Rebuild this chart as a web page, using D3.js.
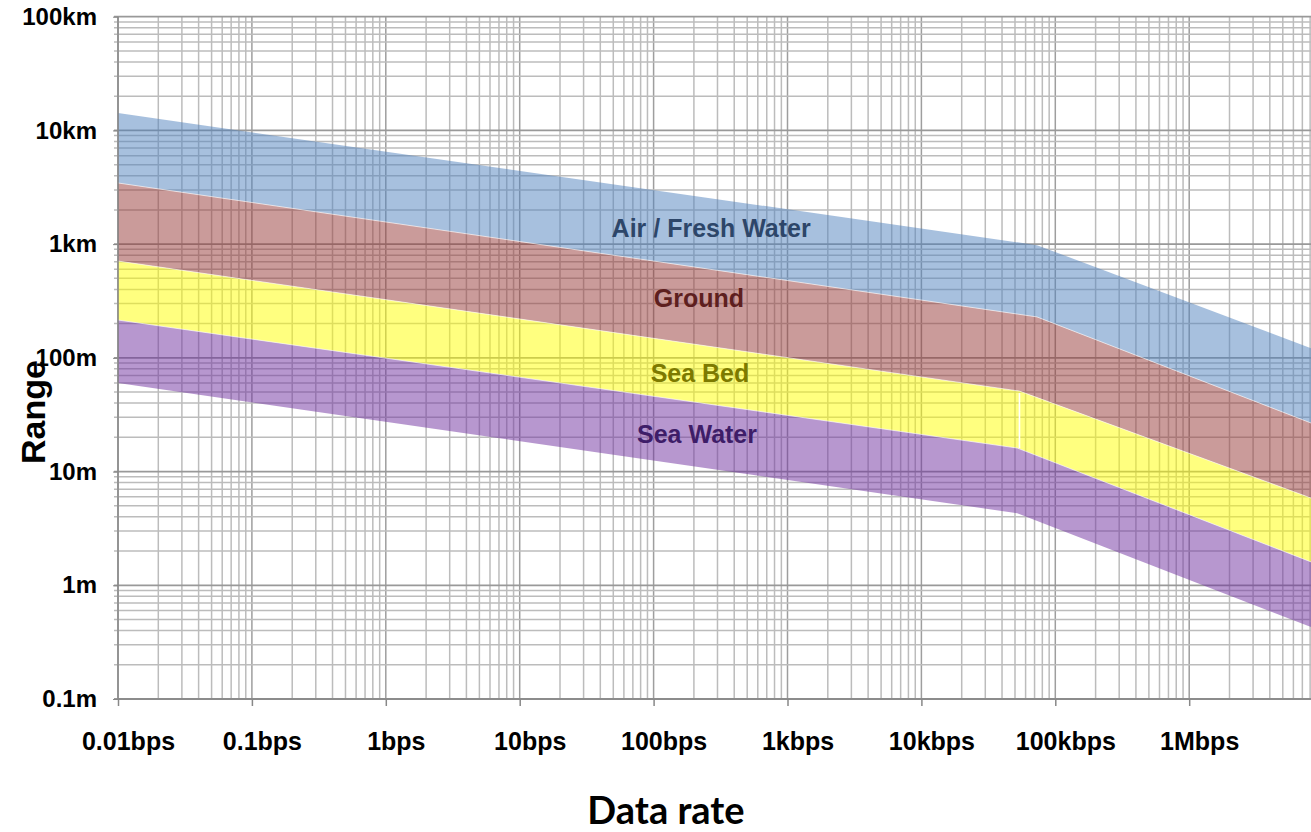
<!DOCTYPE html>
<html>
<head>
<meta charset="utf-8">
<script src="https://cdn.jsdelivr.net/npm/d3@7"></script>
<style>
body { margin: 0; background: #fff; }
svg { display: block; }
</style>
</head>
<body>
<div id="chart"></div>
<script>
// bands, top to bottom
var bandNames = ["Air / Fresh Water", "Ground", "Sea Bed", "Sea Water"];
var bandColors = ["#4f81bd", "#953735", "#ffff00", "#7030a0"];
var textColors = ["#2d4669", "#5e1f1f", "#7d7a00", "#3e1d68"];

// band edges (top of band i = edge i, bottom = edge i+1), bps -> metres
var edgeRates = [
	[0.01, 73000, 1e7],
	[0.01, 73000, 1e7],
	[0.01, 54000, 1e7],
	[0.01, 52000, 1e7],
	[0.01, 52000, 1e7]
];
var edgeRanges = [
	[14200, 980, 111],
	[3450, 229, 24.3],
	[710, 51, 5.35],
	[215, 16.1, 1.46],
	[60, 4.3, 0.39]
];

var labelRates = [269, 218, 222, 211];
var labelRanges = [1380, 333, 73, 21.6];

var xTicks = [0.01, 0.1, 1, 10, 100, 1e3, 1e4, 1e5, 1e6];
var xTickLabels = ["0.01bps", "0.1bps", "1bps", "10bps", "100bps", "1kbps", "10kbps", "100kbps", "1Mbps"];
var yTicks = [0.1, 1, 10, 100, 1e3, 1e4, 1e5];
var yTickLabels = ["0.1m", "1m", "10m", "100m", "1km", "10km", "100km"];

var width = 1311, height = 832;
var margin = {top: 16.7, left: 118, bottom: 699};

var svg = d3.select("#chart")
			.append("svg")
			.attr("width", width)
			.attr("height", height);

var x = d3.scaleLog()
			.domain([0.01, 1e7])
			.range([margin.left, margin.left + 9 * 133.9]);

var y = d3.scaleLog()
			.domain([0.1, 1e5])
			.range([margin.bottom, margin.top]);

var isMajor = v => Math.abs(Math.log10(v) - Math.round(Math.log10(v))) < 1e-6;

// grid
var grid = svg.append("g");
grid.selectAll(".vx")
	.data(x.ticks())
	.join("line")
	.attr("x1", d => x(d)).attr("x2", d => x(d))
	.attr("y1", margin.top).attr("y2", margin.bottom)
	.attr("stroke", d => isMajor(d) ? "#9e9e9e" : "#bcbcbc")
	.attr("stroke-width", 1.5);
grid.selectAll(".hy")
	.data(y.ticks())
	.join("line")
	.attr("y1", d => y(d)).attr("y2", d => y(d))
	.attr("x1", margin.left - 4).attr("x2", width)
	.attr("stroke", d => isMajor(d) ? "#999" : "#bcbcbc")
	.attr("stroke-width", d => isMajor(d) ? 1.8 : 1.5);

// bands
var line = d3.line().x(d => x(d[0])).y(d => y(d[1]));
var edge = i => edgeRates[i].map((r, j) => [r, edgeRanges[i][j]]);

svg.append("g")
	.selectAll("path")
	.data(bandNames)
	.join("path")
	.attr("d", (d, i) => line(edge(i).concat(edge(i + 1).reverse())) + "Z")
	.attr("fill", (d, i) => bandColors[i])
	.attr("fill-opacity", 0.5);

svg.append("g")
	.selectAll("path")
	.data(edgeRates.slice(1, 4))
	.join("path")
	.attr("d", (d, i) => line(edge(i + 1)))
	.attr("fill", "none")
	.attr("stroke", "#fff")
	.attr("stroke-opacity", 0.6)
	.attr("stroke-width", 1);

// small seam in the sea bed band where its two pieces meet
svg.append("line")
	.attr("x1", x(edgeRates[2][1])).attr("x2", x(edgeRates[2][1]))
	.attr("y1", y(edgeRanges[2][1]) + 2).attr("y2", y(edgeRanges[3][1]))
	.attr("stroke", "#fff")
	.attr("stroke-width", 1.6);

// axes
var xAxis = svg.append("g")
	.attr("transform", `translate(0,${margin.bottom})`)
	.call(d3.axisBottom(x).tickValues(xTicks).tickSize(7).tickFormat((d, i) => xTickLabels[i]));
xAxis.select(".domain").attr("stroke", "#888").attr("stroke-width", 1.5).attr("d", `M${margin.left},0H${width}`);
xAxis.selectAll(".tick line").attr("stroke", "#888").attr("stroke-width", 1.5);
xAxis.selectAll("text")
	.attr("y", 33).attr("dx", 10)
	.attr("font-family", "Liberation Sans, Arial, sans-serif")
	.attr("font-weight", "bold").attr("font-size", 25).attr("fill", "#000");

var yAxis = svg.append("g")
	.attr("transform", `translate(${margin.left},0)`)
	.call(d3.axisLeft(y).tickValues(yTicks).tickSize(5).tickFormat((d, i) => yTickLabels[i]));
yAxis.select(".domain").attr("stroke", "#888").attr("stroke-width", 1.5).attr("d", `M0,${margin.top}V${margin.bottom}`);
yAxis.selectAll(".tick line").attr("stroke", "#888");
yAxis.selectAll("text")
	.attr("x", -21)
	.attr("font-family", "Liberation Sans, Arial, sans-serif")
	.attr("font-weight", "bold").attr("font-size", 24).attr("fill", "#000");

// band labels
svg.append("g")
	.selectAll("text")
	.data(bandNames)
	.join("text")
	.attr("x", (d, i) => x(labelRates[i]))
	.attr("y", (d, i) => y(labelRanges[i]))
	.attr("dy", "0.36em")
	.attr("text-anchor", "middle")
	.attr("font-family", "Liberation Sans, Arial, sans-serif")
	.attr("font-weight", "bold")
	.attr("font-size", 25)
	.attr("fill", (d, i) => textColors[i])
	.text(d => d);

// axis titles
svg.append("text")
	.attr("transform", "translate(45,412) rotate(-90)")
	.attr("text-anchor", "middle")
	.attr("font-family", "Liberation Sans, Arial, sans-serif")
	.attr("font-weight", "bold")
	.attr("font-size", 34)
	.text("Range");

svg.append("text")
	.attr("x", 666)
	.attr("y", 824)
	.attr("text-anchor", "middle")
	.attr("font-family", "Lato, sans-serif")
	.attr("font-weight", "bold")
	.attr("font-size", 38)
	.text("Data rate");
</script>
</body>
</html>
